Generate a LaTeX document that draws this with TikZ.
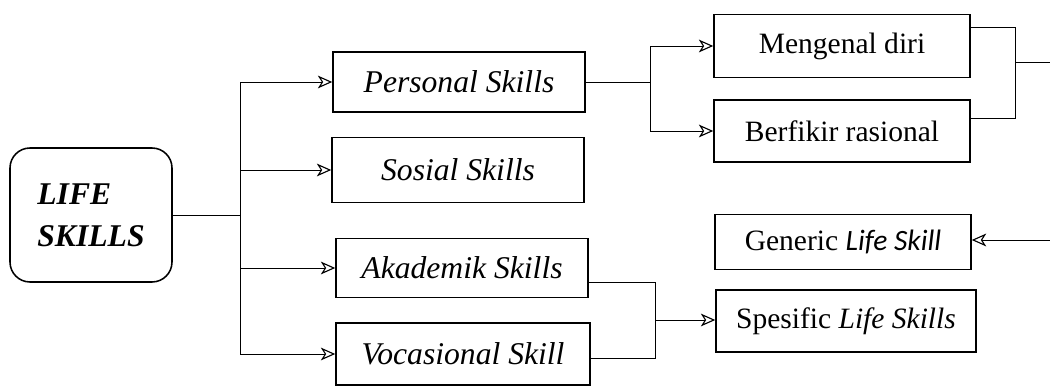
\documentclass[tikz,border=0pt]{standalone}
\usepackage{fontspec}
\setmainfont{Liberation Serif}
\newfontfamily\calfont{Carlito}
\usetikzlibrary{arrows.meta}
\begin{document}
\begin{tikzpicture}[box/.style={shape=rectangle, draw=black, line width=1.1pt, minimum width=6.3cm, minimum height=1.5cm, font=\fontsize{21}{25}\selectfont},
		ibox/.style={box, font=\fontsize{22.5}{27}\selectfont\itshape},
		arr/.style={-{Stealth[open, length=3.6mm, width=3.2mm, inset=1mm, line width=0.8pt]}},
		line/.style={draw=black, line width=0.6pt}]
		\useasboundingbox (0,0) rectangle (26.25,9.7);
		\node (life) at (2.2,4.325) [box, rounded corners=0.5cm, minimum width=4.05cm, minimum height=3.35cm, xshift=0.075cm, align=left, font=\fontsize{22.5}{30}\selectfont\bfseries\itshape] {LIFE\\SKILLS};
		\node (personal) at (11.475,7.65) [ibox] {Personal Skills};
		\node (sosial) at (11.45,5.45) [ibox, minimum height=1.625cm] {Sosial Skills};
		\node (akademik) at (11.55,3.0) [ibox, minimum height=1.475cm] {Akademik Skills};
		\node (vocasional) at (11.575,0.85) [ibox, minimum width=6.35cm, minimum height=1.55cm] {Vocasional Skill};
		\node (mengenal) at (21.05,8.55) [box, minimum width=6.4cm, minimum height=1.575cm] {Mengenal diri};
		\node (berfikir) at (21.05,6.425) [box, minimum width=6.4cm, minimum height=1.55cm] {Berfikir rasional};
		\node (generic) at (21.075,3.65) [box, minimum width=6.4cm, minimum height=1.375cm] {Generic {\calfont\itshape Life Skill}};
		\node (spesific) at (21.15,1.675) [box, minimum width=6.5cm, minimum height=1.55cm] {Spesific \textit{Life Skills}};
		\coordinate (split) at (6.0,4.325);
		\coordinate (psplit) at (16.25,7.65);
		\coordinate (rjoin) at (25.375,8.15);
		\coordinate (redge) at (26.25,8.15);
		\coordinate (gedge) at (26.25,3.7);
		\coordinate (sjoin) at (16.375,1.7);
		\draw[line] (life.east) -- (split);
		\draw[line, arr] (split) |- (personal.west);
		\draw[line, arr] (split) |- (sosial.west);
		\draw[line, arr] (split) |- (akademik.west);
		\draw[line, arr] (split) |- (vocasional.west);
		\draw[line] (personal.east) -- (psplit);
		\draw[line, arr] (psplit) |- (mengenal.west);
		\draw[line, arr] (psplit) |- (berfikir.west);
		\draw[line] ([yshift=0.475cm]mengenal.east) -| (rjoin);
		\draw[line] ([yshift=0.325cm]berfikir.east) -| (rjoin);
		\draw[line] (rjoin) -- (redge);
		\draw[line, arr] (gedge) -- (gedge -| generic.east);
		\draw[line] ([yshift=-0.35cm]akademik.east) -| (sjoin);
		\draw[line] ([yshift=-0.1cm]vocasional.east) -| (sjoin);
		\draw[line, arr] (sjoin) -- (sjoin -| spesific.west);
		\end{tikzpicture}
\end{document}
